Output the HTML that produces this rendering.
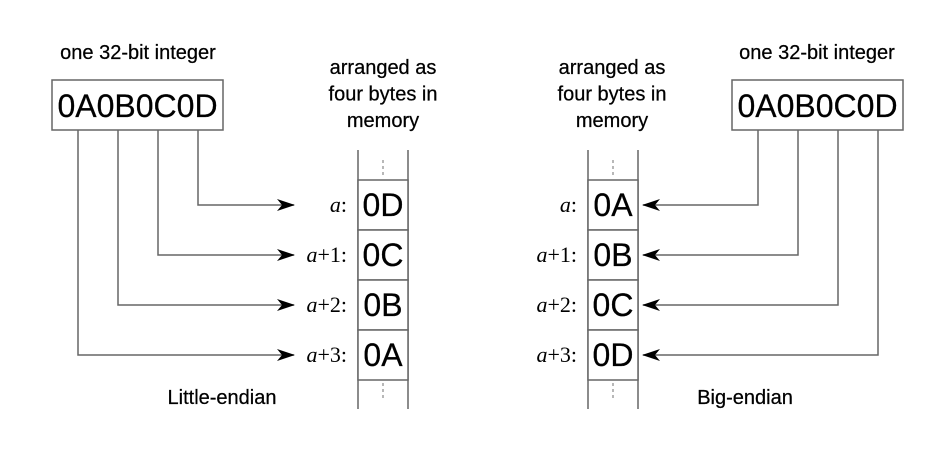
<!DOCTYPE html>
<html><head><meta charset="utf-8"><style>
html,body{margin:0;padding:0;background:#fff;}
svg{display:block;}
.s{font-family:"Liberation Sans",sans-serif;fill:#000;stroke:#000;stroke-width:0.25;}
.m{font-family:"Liberation Serif",serif;fill:#000;font-size:22px;}
</style></head><body>
<svg width="938" height="463" viewBox="0 0 938 463">
<defs>
<marker id="ah" viewBox="0 0 18 12" refX="17" refY="6" markerWidth="18" markerHeight="12" markerUnits="userSpaceOnUse" orient="auto">
<path d="M0,0 L18,6 L0,12 L5,6 Z" fill="#000"/></marker>
</defs>
<g id="left"></g>
<g id="right"></g>
</svg>
<script>
const NS='http://www.w3.org/2000/svg';
function mk(p,t,a,txt){const e=document.createElementNS(NS,t);for(const k in a)e.setAttribute(k,a[k]);if(txt!==undefined)e.textContent=txt;p.appendChild(e);return e;}
const stroke='#666';
function panel(g,box,col,bytes,dir,caption,capX,intX,memX){
  let t=mk(g,'text',{class:'s',x:intX,y:59,'text-anchor':'middle','font-size':20},'one 32-bit integer');
  
  
  ['arranged as','four bytes in','memory'].forEach((s,i)=>{
    const e=mk(g,'text',{class:'s',x:memX,y:74+i*26.5,'text-anchor':'middle','font-size':20},s);
    
    
  });
  const r=mk(g,'rect',{x:box,y:80,width:171,height:50,fill:'#fff',stroke:stroke,'stroke-width':1.5});
  
  
  const it=mk(g,'text',{class:'s',x:box+85.5,y:117,'text-anchor':'middle','font-size':32},'0A0B0C0D');
  
  
  mk(g,'line',{x1:col,y1:150,x2:col,y2:409,stroke:stroke,'stroke-width':1.5});
  mk(g,'line',{x1:col+50,y1:150,x2:col+50,y2:409,stroke:stroke,'stroke-width':1.5});
  mk(g,'line',{x1:col+25,y1:160,x2:col+25,y2:177,stroke:'#888','stroke-width':1.2,'stroke-dasharray':'3,3'});
  mk(g,'line',{x1:col+25,y1:383,x2:col+25,y2:401,stroke:'#888','stroke-width':1.2,'stroke-dasharray':'3,3'});
  const labels=['a:','a+1:','a+2:','a+3:'];
  bytes.forEach((b,i)=>{
    const y=180+i*50;
    const c=mk(g,'rect',{x:col,y:y,width:50,height:50,fill:'#fff',stroke:stroke,'stroke-width':1.5});
    
    
    const bt=mk(g,'text',{class:'s',x:col+25,y:y+36,'text-anchor':'middle','font-size':32},b);
    
    
    const lt=mk(g,'text',{class:'m',x:col-11,y:y+32,'text-anchor':'end'});
    mk(lt,'tspan',{'font-style':'italic'},'a');
    mk(lt,'tspan',{},labels[i].slice(1));
    
    
    const srcIdx = dir==='L' ? 3-i : i;
    const vx = box+26+srcIdx*40;
    const ay=y+25;
    const tipX = dir==='L' ? col-64 : col+55;
    const p=mk(g,'path',{d:`M${vx},130 L${vx},${ay} L${tipX},${ay}`,fill:'none',stroke:stroke,'stroke-width':1.5,'marker-end':'url(#ah)'});
    
    
  });
  const ct=mk(g,'text',{class:'s',x:capX,y:404,'text-anchor':'middle','font-size':20},caption);
  
  
}
panel(document.getElementById('left'),52,358,['0D','0C','0B','0A'],'L','Little-endian',222,138,383);
panel(document.getElementById('right'),732,588,['0A','0B','0C','0D'],'R','Big-endian',745,817,612);
</script>
</body></html>
